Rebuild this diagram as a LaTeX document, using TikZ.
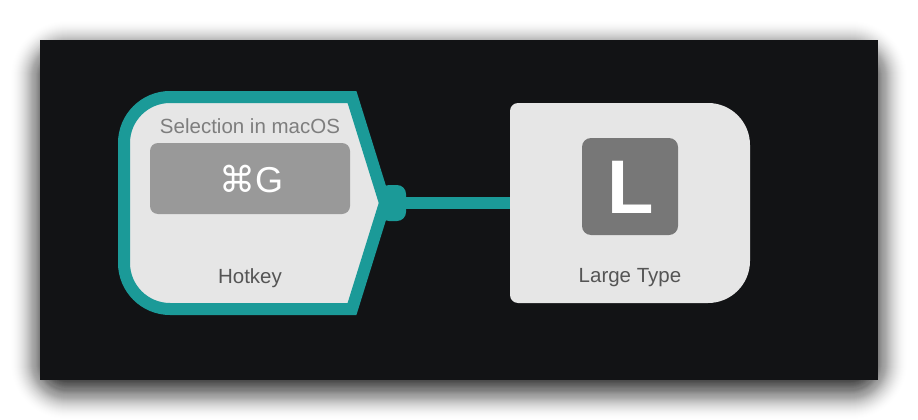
\documentclass[tikz,border=0pt]{standalone}
\usepackage{fontspec}
\setmainfont{Liberation Sans}
\newfontfamily\symfont{DejaVu Sans}
\definecolor{bgdark}{HTML}{121315}
\definecolor{tealc}{HTML}{1B9A98}
\definecolor{nodefill}{HTML}{E6E6E6}
\definecolor{keygray}{HTML}{999999}
\definecolor{icongray}{HTML}{777777}
\definecolor{labelgray}{HTML}{555555}
\definecolor{subgray}{HTML}{7E7E7E}
\begin{document}
\begin{tikzpicture}[x=1pt,y=-1pt,
  nodeshape/.style={fill=nodefill},
  hkshape/.style={fill=nodefill, draw=tealc, line width=12pt, line join=miter},
  keybox/.style={rectangle, fill=keygray, rounded corners=8pt, minimum width=200pt, minimum height=71pt, inner sep=0pt},
  iconbox/.style={rectangle, fill=icongray, rounded corners=9pt, minimum width=96pt, minimum height=97pt, inner sep=0pt},
  knobbox/.style={rectangle, fill=tealc, rounded corners=9pt, minimum width=26pt, minimum height=36pt, inner sep=0pt},
  conn/.style={draw=tealc, line width=12pt},
  lbl/.style={font=\fontsize{20.5}{24}\selectfont, text=labelgray, anchor=base, inner sep=0pt},
  sublbl/.style={font=\fontsize{20.5}{24}\selectfont, text=subgray, anchor=base, inner sep=0pt},
  shadowlayer/.style={fill=black},
]
\useasboundingbox (0,0) rectangle (918,420);
\fill[white] (0,0) rectangle (918,420);
% soft shadow (offset downwards, blurred)
\foreach \k [evaluate=\k as \r using {\k+27}, evaluate=\k as \op using {0.07*(31-\k)/56}] in {-25,...,30} {
  \fill[shadowlayer, fill opacity=\op, rounded corners=\r pt] ({40-(\k)},{50-(\k)}) rectangle ({878+\k},{390+\k});
}
\fill[bgdark] (40,40) rectangle (878,380);

% Hotkey node
\draw[hkshape] (352,97) -- (170,97) .. controls (144.6,97) and (124,117.6) .. (124,143) -- (124,263) .. controls (124,288.4) and (144.6,309) .. (170,309) -- (352,309) -- (385,203) -- cycle;
\coordinate (hk) at (250,203);
\node[knobbox] (knob) at (393,203) {};
\node[sublbl] (sel) at (250,133.3) {Selection in macOS};
\node[keybox] (key) at (250,178.5) {};
\node[anchor=base, inner sep=0pt, text=white, font=\fontsize{36}{40}\selectfont] (keytxt) at (251,192.3) {{\symfont ⌘}G};
\node[lbl] (hklbl) at (250,283.3) {Hotkey};

% Large Type node
\node[minimum width=240pt, minimum height=200pt, inner sep=0pt] (lt) at (630,203) {};
\fill[nodeshape] (518,103) -- (708,103) .. controls (731.2,103) and (750,121.8) .. (750,145) -- (750,261) .. controls (750,284.2) and (731.2,303) .. (708,303) -- (518,303) .. controls (513.6,303) and (510,299.4) .. (510,295) -- (510,111) .. controls (510,106.6) and (513.6,103) .. (518,103) -- cycle;
\node[iconbox] (icon) at (630,186.5) {};
\node[anchor=base, inner sep=0pt, text=white, font=\fontsize{76}{80}\selectfont\bfseries] (icontxt) at (631,213.3) {L};
\node[lbl] (ltlbl) at (630,282.7) {Large Type};

% connector
\draw[conn] (knob.east) -- (lt.west);
\end{tikzpicture}
\end{document}
